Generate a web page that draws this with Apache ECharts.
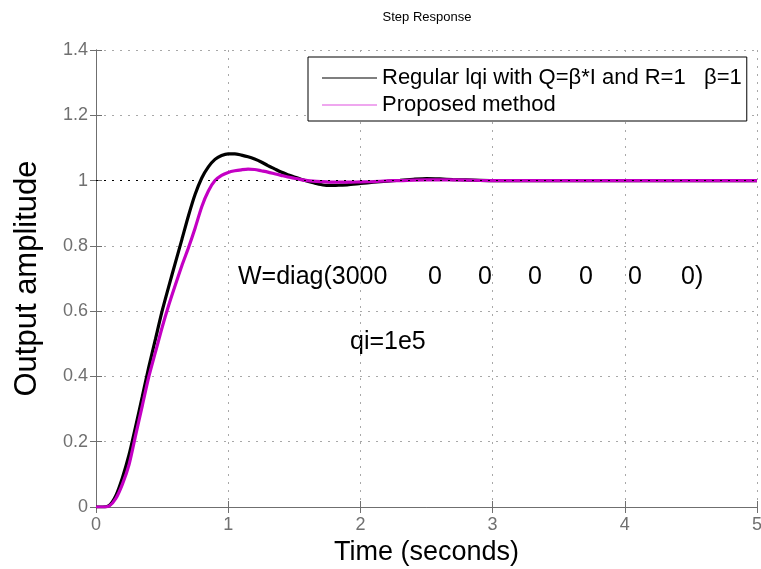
<!DOCTYPE html>
<html><head><meta charset="utf-8">
<script src="https://cdn.jsdelivr.net/npm/echarts@6/dist/echarts.min.js"></script>
<style>html,body{margin:0;padding:0;background:#fff}#c{width:761px;height:569px}</style>
</head><body><div id="c"></div>
<script>
const chartTitle = 'Step Response';
const xAxisName = 'Time (seconds)';
const yAxisName = 'Output amplitude';
const seriesNames = ['Regular lqi with Q=\u03b2*I and R=1   \u03b2=1', 'Proposed method'];
const xTicks = [0, 1, 2, 3, 4, 5];
const yTicks = [0, 0.2, 0.4, 0.6, 0.8, 1, 1.2, 1.4];
const steadyState = 1;

const timeRegular = [0, 0.05, 0.1, 0.15, 0.2, 0.25, 0.3, 0.35, 0.4, 0.45, 0.5, 0.55, 0.6, 0.65, 0.7, 0.75, 0.8, 0.85, 0.9, 0.95, 1.0, 1.05, 1.1, 1.15, 1.2, 1.25, 1.3, 1.35, 1.4, 1.45, 1.5, 1.55, 1.6, 1.65, 1.7, 1.75, 1.8, 1.85, 1.9, 2.0, 2.1, 2.2, 2.3, 2.4, 2.5, 2.6, 2.7, 2.8, 3.0, 3.5, 4.0, 4.5, 5.0];
const valRegular  = [0, 0, 0.005, 0.035, 0.09, 0.16, 0.247, 0.338, 0.43, 0.515, 0.6, 0.675, 0.748, 0.82, 0.893, 0.958, 1.008, 1.042, 1.065, 1.077, 1.082, 1.082, 1.078, 1.073, 1.066, 1.057, 1.046, 1.036, 1.026, 1.018, 1.011, 1.004, 0.998, 0.993, 0.988, 0.985, 0.985, 0.986, 0.987, 0.991, 0.995, 0.998, 1.001, 1.004, 1.006, 1.005, 1.003, 1.002, 1.0, 1.0, 1.0, 1.0, 1.0];

const timeProposed = [0, 0.05, 0.1, 0.15, 0.2, 0.25, 0.3, 0.35, 0.4, 0.45, 0.5, 0.55, 0.6, 0.65, 0.7, 0.75, 0.8, 0.85, 0.9, 0.95, 1.0, 1.05, 1.1, 1.15, 1.2, 1.25, 1.3, 1.35, 1.4, 1.45, 1.5, 1.55, 1.6, 1.7, 1.8, 1.9, 2.0, 2.1, 2.2, 2.3, 2.5, 2.7, 3.0, 3.5, 4.0, 4.5, 5.0];
const valProposed  = [0, 0, 0.003, 0.026, 0.07, 0.13, 0.22, 0.31, 0.4, 0.475, 0.55, 0.618, 0.68, 0.74, 0.795, 0.855, 0.92, 0.968, 1.0, 1.016, 1.025, 1.03, 1.033, 1.035, 1.034, 1.03, 1.026, 1.021, 1.016, 1.011, 1.007, 1.003, 1.0, 0.997, 0.995, 0.995, 0.996, 0.997, 0.999, 1.0, 1.002, 1.002, 1.0, 1.0, 1.0, 1.0, 1.0];

const annotationMain = ['W=diag(3000', '0', '0', '0', '0', '0', '0)'];
const annotationSub = 'qi=1e5';

const FONT = '"Liberation Sans", Arial, Helvetica, sans-serif';
const chart = echarts.init(document.getElementById('c'), null, {renderer: 'canvas'});

const gridLine = {show: true, lineStyle: {color: '#a8a8a8', type: [2, 6], width: 1}};
const axisLineStyle = {color: '#6f6f6f', width: 1};

const annX = [238, 435, 485, 535, 586, 635, 681];
const graphics = annotationMain.map((s, i) => ({
  type: 'text', left: i === 0 || i === 6 ? annX[i] : annX[i] - 7, top: 265,
  style: {text: s, font: '25px ' + FONT, fill: '#000'}
}));
graphics.push({type: 'text', left: 350, top: 330, style: {text: annotationSub, font: '25px ' + FONT, fill: '#000'}});

const option = {
  animation: false,
  backgroundColor: '#fff',
  title: {text: chartTitle, left: 422, top: 6, textAlign: 'center',
    textStyle: {fontFamily: FONT, fontSize: 13, fontWeight: 'normal', color: '#000'}},
  grid: {left: 96, right: 4, top: 50, bottom: 62, containLabel: false, outerBoundsMode: 'none'},
  legend: {
    orient: 'vertical', left: 308, top: 57,
    data: [
      {name: seriesNames[0], itemStyle: {color: '#000'}},
      {name: seriesNames[1], itemStyle: {color: '#e050e0'}}
    ],
    icon: 'rect',
    backgroundColor: '#fff', borderColor: '#000', borderWidth: 1,
    padding: [10, 5, 5, 14], itemGap: 5, itemWidth: 55, itemHeight: 1.2,
    textStyle: {fontFamily: FONT, fontSize: 22, lineHeight: 22, color: '#000'},
    selectedMode: false
  },
  xAxis: [{
    type: 'value', min: 0, max: 5, interval: 1, position: 'bottom',
    name: xAxisName, nameLocation: 'middle', nameGap: 30,
    nameTextStyle: {fontFamily: FONT, fontSize: 27, color: '#000'},
    axisLine: {show: true, lineStyle: axisLineStyle},
    axisTick: {show: true, inside: true, length: 6, lineStyle: axisLineStyle},
    axisLabel: {fontFamily: FONT, fontSize: 18, color: '#707070', margin: 9,
      formatter: v => xTicks.includes(v) ? String(v) : ''},
    splitLine: gridLine
  }, {
    type: 'value', min: 0, max: 5, interval: 1, position: 'top',
    axisLine: {show: true, lineStyle: axisLineStyle},
    axisTick: {show: true, inside: true, length: 6, lineStyle: axisLineStyle},
    axisLabel: {show: false}, splitLine: {show: false}
  }],
  yAxis: [{
    type: 'value', min: 0, max: 1.4, interval: 0.2, position: 'left',
    name: yAxisName, nameLocation: 'middle', nameGap: 53, nameRotate: 90,
    nameTextStyle: {fontFamily: FONT, fontSize: 31, color: '#000'},
    axisLine: {show: true, lineStyle: axisLineStyle},
    axisTick: {show: true, inside: true, length: 6, lineStyle: axisLineStyle},
    axisLabel: {fontFamily: FONT, fontSize: 18, color: '#707070', margin: 8,
      formatter: v => { const t = yTicks.find(y => Math.abs(y - v) < 1e-9); return t === undefined ? '' : String(t); }},
    splitLine: gridLine
  }, {
    type: 'value', min: 0, max: 1.4, interval: 0.2, position: 'right',
    axisLine: {show: true, lineStyle: axisLineStyle},
    axisTick: {show: true, inside: true, length: 6, lineStyle: axisLineStyle},
    axisLabel: {show: false}, splitLine: {show: false}
  }],
  series: [{
    name: seriesNames[0], type: 'line', symbol: 'none', smooth: 0.25,
    data: timeRegular.map((t, i) => [t, valRegular[i]]),
    lineStyle: {color: '#000', width: 3.2}, itemStyle: {color: '#000'},
    markLine: {silent: true, symbol: 'none', label: {show: false},
      lineStyle: {color: '#000', type: [2, 6], width: 1}, data: [{yAxis: steadyState}]},
    z: 2
  }, {
    name: seriesNames[1], type: 'line', symbol: 'none', smooth: 0.25,
    data: timeProposed.map((t, i) => [t, valProposed[i]]),
    lineStyle: {color: '#c400c4', width: 3.2}, itemStyle: {color: '#c400c4'},
    z: 3
  }],
  graphic: graphics
};
chart.setOption(option);
</script>
</body></html>
